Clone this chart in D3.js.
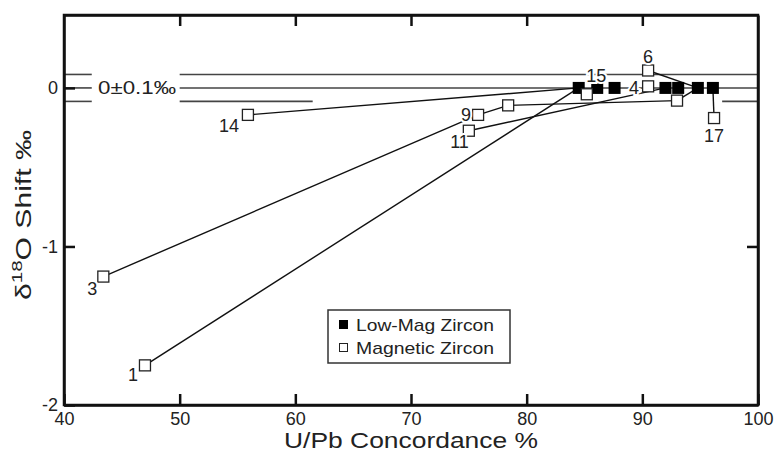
<!DOCTYPE html>
<html>
<head>
<meta charset="utf-8">
<script src="https://cdn.jsdelivr.net/npm/d3@7/dist/d3.min.js"></script>
<style>
  html, body { margin: 0; padding: 0; background: #fff; }
  svg { display: block; }
  text { font-family: "Liberation Sans", Arial, Helvetica, sans-serif; fill: #222; }
</style>
</head>
<body>
<svg id="chart" width="775" height="462"></svg>
<script>
// ---- data ----
const xTicks = [40, 50, 60, 70, 80, 90, 100];
const yTicks = [-2, -1, 0];

// Low-Mag Zircon (filled squares)
const lowMagX = [84.5, 86.1, 87.6, 92.0, 93.1, 94.8, 96.1];
const lowMagY = [0, 0, 0, 0, 0, 0, 0];

// Magnetic Zircon (open squares)
const magLabels = ["1", "3", "14", "9", "", "11", "", "6", "4", "", "17"];
const magX = [47.0, 43.4, 55.9, 75.8, 78.4, 75.0, 85.2, 90.5, 90.5, 93.0, 96.2];
const magY = [-1.75, -1.19, -0.17, -0.17, -0.11, -0.27, -0.04, 0.11, 0.01, -0.08, -0.19];

// connections between points
const links = [
  ["m", 0, "l", 0],
  ["m", 2, "l", 0],
  ["m", 1, "m", 3],
  ["m", 3, "m", 4],
  ["m", 4, "m", 9],
  ["m", 9, "l", 5],
  ["m", 7, "l", 5],
  ["m", 5, "l", 3],
  ["m", 10, "l", 6],
  ["m", 6, "l", 0]
];

// reference band 0 ± 0.1 ‰
const bandY = [0.085, 0, -0.085];
const bandLabel = "0±0.1‰";
const extraLabel = "15";

// ---- layout ----
const svg = d3.select("#chart");
const L = 64, R = 758, T = 15, B = 405;
const x = d3.scaleLinear().domain([40, 100]).range([L, R]);
const y = d3.scaleLinear().domain([-2, 0.46]).range([B, T]);

const lineCol = "#111";
function stretch(sel, target) {
  sel.attr("textLength", target).attr("lengthAdjust", "spacingAndGlyphs");
}

// reference lines with gaps
const bandSegs = [
  [0, 40, 42.4], [0, 50, 100],
  [1, 40, 42.4], [1, 50, 100],
  [2, 40, 42.4], [2, 50, 61.5], [2, 96.9, 100]
];
svg.append("g").selectAll("line").data(bandSegs).join("line")
  .attr("x1", d => x(d[1])).attr("x2", d => x(d[2]))
  .attr("y1", d => y(bandY[d[0]])).attr("y2", d => y(bandY[d[0]]))
  .attr("stroke", "#444").attr("stroke-width", 1.6);

stretch(svg.append("text").attr("x", 98).attr("y", y(0) + 6.5)
  .attr("font-size", 18).text(bandLabel), 78);

// axes (box)
const axG = svg.append("g");
axG.append("g").attr("transform", `translate(0,${B})`)
  .call(d3.axisBottom(x).tickValues(xTicks).tickSize(-11).tickSizeOuter(0).tickPadding(7)
    .tickFormat(d => String(d)));
axG.append("g").attr("transform", `translate(0,${T})`)
  .call(d3.axisTop(x).tickValues(xTicks.slice(1, -1)).tickSize(-11).tickSizeOuter(0).tickFormat(""));
axG.append("g").attr("transform", `translate(${L},0)`)
  .call(d3.axisLeft(y).tickValues(yTicks).tickSize(-11).tickSizeOuter(0).tickPadding(6)
    .tickFormat(d => String(d)));
axG.append("g").attr("transform", `translate(${R},0)`)
  .call(d3.axisRight(y).tickValues([-1]).tickSize(-11).tickSizeOuter(0).tickFormat(""));
axG.selectAll(".domain").attr("stroke", lineCol).attr("stroke-width", 2.5);
axG.selectAll(".tick line").attr("stroke", lineCol).attr("stroke-width", 2.5);
axG.selectAll(".tick text").attr("font-size", 18).attr("fill", "#222")
  .attr("font-family", "Liberation Sans, Arial, sans-serif");
axG.append("rect").attr("x", L).attr("y", T).attr("width", R - L).attr("height", B - T)
  .attr("fill", "none").attr("stroke", lineCol).attr("stroke-width", 2.5);

// link lines
function pt(t, i) {
  return t === "m" ? [x(magX[i]), y(magY[i])] : [x(lowMagX[i]), y(lowMagY[i])];
}
svg.append("g").selectAll("line").data(links).join("line")
  .attr("x1", d => pt(d[0], d[1])[0]).attr("y1", d => pt(d[0], d[1])[1])
  .attr("x2", d => pt(d[2], d[3])[0]).attr("y2", d => pt(d[2], d[3])[1])
  .attr("stroke", lineCol).attr("stroke-width", 1.4);

// low-mag filled squares
const sF = 12;
svg.append("g").selectAll("rect").data(lowMagX).join("rect")
  .attr("x", (d) => x(d) - sF / 2).attr("y", (d, i) => y(lowMagY[i]) - sF / 2)
  .attr("width", sF).attr("height", sF).attr("fill", "#000");

// magnetic open squares
const sO = 11;
svg.append("g").selectAll("rect").data(magX).join("rect")
  .attr("x", d => x(d) - sO / 2).attr("y", (d, i) => y(magY[i]) - sO / 2)
  .attr("width", sO).attr("height", sO).attr("fill", "#fff")
  .attr("stroke", "#222").attr("stroke-width", 1.3);

// point labels (offsets in px: dx, dy, anchor)
const labelPos = {
  "1": [-7, 16, "end"],
  "3": [-6, 18, "end"],
  "14": [-9, 17, "end"],
  "9": [-7, 6, "end"],
  "11": [0, 17, "end"],
  "6": [0, -7, "middle"],
  "4": [-9, 8, "end"],
  "17": [0, 24, "middle"]
};
svg.append("g").selectAll("text").data(magX.map((d, i) => i).filter(i => magLabels[i] !== ""))
  .join("text")
  .attr("x", i => x(magX[i]) + labelPos[magLabels[i]][0])
  .attr("y", i => y(magY[i]) + labelPos[magLabels[i]][1])
  .attr("text-anchor", i => labelPos[magLabels[i]][2])
  .attr("font-size", 18)
  .attr("stroke", "#fff").attr("stroke-width", 4).attr("paint-order", "stroke")
  .text(i => magLabels[i]);

svg.append("text").attr("x", x(lowMagX[1]) - 1).attr("y", y(0) - 6)
  .attr("text-anchor", "middle").attr("font-size", 18)
  .attr("stroke", "#fff").attr("stroke-width", 4).attr("paint-order", "stroke")
  .text(extraLabel);

// axis titles
stretch(svg.append("text").attr("x", (L + R) / 2).attr("y", 448).attr("text-anchor", "middle")
  .attr("font-size", 22).text("U/Pb Concordance %"), 254);

const yt = svg.append("text").attr("transform", `translate(31,${215}) rotate(-90)`)
  .attr("text-anchor", "middle").attr("font-size", 22);
yt.append("tspan").text("δ");
yt.append("tspan").attr("font-size", 15).attr("dy", -9).text("18");
yt.append("tspan").attr("dy", 9).text("O Shift ‰");
stretch(yt, 170);

// legend
const lg = svg.append("g");
lg.append("rect").attr("x", 328).attr("y", 310).attr("width", 182).attr("height", 53)
  .attr("fill", "#fff").attr("stroke", "#333").attr("stroke-width", 1.5);
lg.append("rect").attr("x", 339).attr("y", 320).attr("width", 9).attr("height", 9).attr("fill", "#000");
lg.append("rect").attr("x", 339.5).attr("y", 343.5).attr("width", 8).attr("height", 8)
  .attr("fill", "#fff").attr("stroke", "#222").attr("stroke-width", 1);
stretch(lg.append("text").attr("x", 356).attr("y", 331).attr("font-size", 17).text("Low-Mag Zircon"), 138);
stretch(lg.append("text").attr("x", 356).attr("y", 354).attr("font-size", 17).text("Magnetic Zircon"), 138);
</script>
</body>
</html>
